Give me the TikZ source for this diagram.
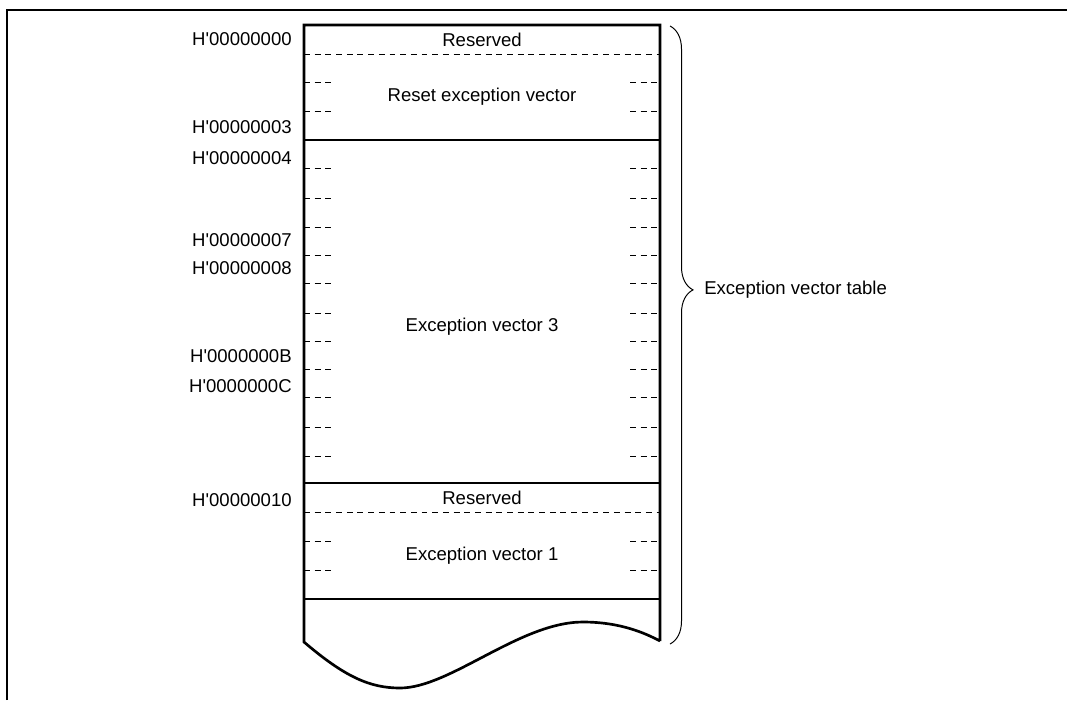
\documentclass[tikz,border=0pt]{standalone}
\usepackage{fontspec}
\setmainfont{Liberation Sans}
\usetikzlibrary{decorations.pathreplacing}

\begin{document}
\begin{tikzpicture}[x=0.025cm, y=-0.025cm, font=\fontsize{13.2}{15}\selectfont,
    wall/.style={line width=1.9pt, line join=miter},
    split/.style={line width=0.7pt, dash pattern=on 4.2pt off 3.4pt},
    addr/.style={anchor=east, inner sep=0pt},
    cell/.style={inner sep=0pt}]
    \useasboundingbox (0,0) rectangle (1067,700);
    \draw[line width=1.4pt] (7,700) -- (7,10) -- (1067,10);
    % memory table outline with torn bottom
    \draw[wall] (660,641) -- (660,25) -- (304,25) -- (304,642)
        .. controls (345,677) and (370,688) .. (400,688)
        .. controls (450,688) and (520,622) .. (583,622)
        .. controls (620,622) and (645,633) .. (660,641);
    \draw[wall] (304,140) -- (660,140);
    \draw[wall] (304,483) -- (660,483);
    \draw[wall] (304,599) -- (660,599);
    \draw[split] (304,54) -- (660,54);
    \draw[split] (304,512) -- (660,512);
    % byte boundaries
    \draw[split] (304,82) -- (332,82) (630,82) -- (660,82);
    \draw[split] (304,111) -- (332,111) (630,111) -- (660,111);
    \draw[split] (304,168) -- (332,168) (630,168) -- (660,168);
    \draw[split] (304,198) -- (332,198) (630,198) -- (660,198);
    \draw[split] (304,227) -- (332,227) (630,227) -- (660,227);
    \draw[split] (304,255) -- (332,255) (630,255) -- (660,255);
    \draw[split] (304,283) -- (332,283) (630,283) -- (660,283);
    \draw[split] (304,313) -- (332,313) (630,313) -- (660,313);
    \draw[split] (304,341) -- (332,341) (630,341) -- (660,341);
    \draw[split] (304,369) -- (332,369) (630,369) -- (660,369);
    \draw[split] (304,397) -- (332,397) (630,397) -- (660,397);
    \draw[split] (304,427) -- (332,427) (630,427) -- (660,427);
    \draw[split] (304,456) -- (332,456) (630,456) -- (660,456);
    \draw[split] (304,541) -- (332,541) (630,541) -- (660,541);
    \draw[split] (304,570) -- (332,570) (630,570) -- (660,570);
    \node[cell] (resv1) at (482,39.5) {Reserved};
    \node[cell] (rstvec) at (482,96.5) {Reset exception vector};
    \node[cell] (exc3) at (482,327) {Exception vector 3};
    \node[cell] (resv2) at (482,498) {Reserved};
    \node[cell] (exc1) at (482,555.5) {Exception vector 1};
    % addresses
    \node[addr] (a00) at (292,39) {H\textquotesingle00000000};
    \node[addr] (a03) at (292,127) {H\textquotesingle00000003};
    \node[addr] (a04) at (292,158) {H\textquotesingle00000004};
    \node[addr] (a07) at (292,240) {H\textquotesingle00000007};
    \node[addr] (a08) at (292,268) {H\textquotesingle00000008};
    \node[addr] (a0b) at (292,356) {H\textquotesingle0000000B};
    \node[addr] (a0c) at (292,386) {H\textquotesingle0000000C};
    \node[addr] (a10) at (292,500) {H\textquotesingle00000010};
    % brace
    \coordinate (tabtop) at (670,26);
    \coordinate (tabbot) at (670,644);
    \draw[line width=0.7pt, decorate, decoration={brace, amplitude=0.575cm, aspect=0.427}] (tabtop) -- (tabbot);
    \node[anchor=west, inner sep=0pt] (evt) at (704,290) {Exception vector table};
\end{tikzpicture}
\end{document}
